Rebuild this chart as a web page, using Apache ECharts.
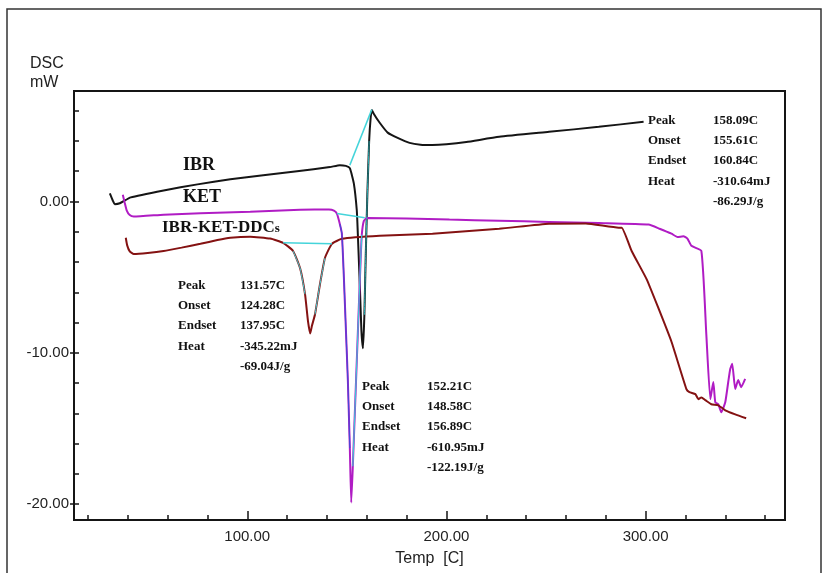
<!DOCTYPE html>
<html>
<head>
<meta charset="utf-8">
<script src="https://cdn.jsdelivr.net/npm/echarts@6/dist/echarts.min.js"></script>
<style>
    html, body { margin: 0; padding: 0; background: #fff; }
    #dsc-chart { width: 823px; height: 573px; }
</style>
</head>
<body>
<div id="dsc-chart"></div>
<script>
// DSC thermograms, [temp C, heat flow mW]
var ibrPoints = [
    [31, 0.53], [32.5, 0.05], [33.5, -0.18], [36, -0.12], [41.5, 0.27], [58, 0.73], [75, 1.13],
    [91.5, 1.47], [108, 1.73], [125, 2.0], [141.5, 2.27], [146.5, 2.4], [149.5, 2.35], [151.5, 2.2],
    [153.5, 1.2], [155, -0.6], [155.5, -2.1], [156.5, -5.5], [157.3, -8.5], [158.1, -9.7],
    [158.8, -7.5], [159.5, -3.5], [160.3, 0.5], [161.2, 4.0], [162, 5.6], [162.6, 6.05],
    [163.5, 5.8], [166.5, 5.2], [170.5, 4.55], [175.5, 4.2], [181.5, 3.87], [187, 3.75],
    [193, 3.73], [200, 3.78], [210, 3.93], [226.5, 4.27], [251.5, 4.6], [276.5, 4.93], [299, 5.27]
];
var ketPoints = [
    [37.5, 0.45], [38.5, -0.1], [39.5, -0.6], [41, -0.9], [43, -1.0], [58, -0.87], [76.5, -0.78],
    [101.5, -0.68], [126.5, -0.55], [141, -0.53], [143.5, -0.6], [145, -0.8], [146.5, -1.5],
    [147.5, -2.13], [148.5, -5.0], [149.5, -8.4], [150.5, -11.8], [151.5, -16.3], [152.2, -19.9],
    [153, -17.5], [154, -14.0], [155, -10.5], [156, -7.0], [157, -3.6], [157.5, -2.2],
    [158.5, -1.3], [160, -1.1], [180, -1.12], [201.5, -1.2], [226.5, -1.27], [251.5, -1.35],
    [276.5, -1.43], [301.5, -1.53], [307, -1.8], [313, -2.13], [316, -2.35], [319, -2.3],
    [321, -2.45], [323, -2.93], [328, -3.27], [330.5, -8.8], [332.5, -13.07], [334, -11.93],
    [335, -13.27], [336.5, -13.4], [338, -13.93], [340, -13.27], [341.5, -11.93], [342.5, -11.07],
    [343.5, -10.73], [345, -12.4], [346.5, -11.8], [348, -12.27], [350, -11.73]
];
var ddcPoints = [
    [39, -2.4], [39.7, -2.9], [41, -3.3], [43, -3.47], [50, -3.4], [58, -3.27], [67, -3.05],
    [76.5, -2.8], [85, -2.55], [91.5, -2.4], [101.5, -2.33], [111.5, -2.45], [118, -2.73],
    [123, -3.27], [126.5, -4.4], [129, -6.13], [130.5, -7.93], [131.6, -8.73], [132.5, -8.2],
    [134, -7.47], [136.5, -5.47], [139, -3.73], [142.5, -2.8], [147.5, -2.47], [166.5, -2.27],
    [193, -2.13], [226.5, -1.8], [251.5, -1.47], [270, -1.45], [286.5, -1.73], [288, -1.73],
    [293, -3.27], [300.5, -5.13], [306.5, -7.07], [313, -9.27], [320.5, -12.4], [322, -12.6],
    [325, -12.73], [326.5, -13.07], [328, -12.95], [330, -13.13], [333, -13.4], [336.5, -13.47],
    [340, -13.8], [345, -14.07], [350.5, -14.33]
];
// integration baselines drawn by the instrument software
var ibrBaseline = [[151.5, 2.4], [162.5, 6.07]];
var ketBaseline = [[145, -0.8], [159, -1.07]];
var ddcBaseline = [[118, -2.73], [142.5, -2.8]];

var xMinorTicks = [20, 40, 60, 80, 100, 120, 140, 160, 180, 200, 220, 240, 260, 280, 300, 320, 340, 360];
var xMajorTicks = [100, 200, 300];
var yMinorTicks = [-20, -18, -16, -14, -12, -10, -8, -6, -4, -2, 0, 2, 4, 6];
var yMajorTicks = [-20, -10, 0];

var ibrResults = [['Peak', '158.09C'], ['Onset', '155.61C'], ['Endset', '160.84C'], ['Heat', '-310.64mJ'], ['', '-86.29J/g']];
var ketResults = [['Peak', '152.21C'], ['Onset', '148.58C'], ['Endset', '156.89C'], ['Heat', '-610.95mJ'], ['', '-122.19J/g']];
var ddcResults = [['Peak', '131.57C'], ['Onset', '124.28C'], ['Endset', '137.95C'], ['Heat', '-345.22mJ'], ['', '-69.04J/g']];

var xMin = 13, xMax = 370;
var yMin = -21.05, yMax = 7.3;

var axisColor = '#151515';
var cyan = '#44D4DA';
var serifBold = 'bold 13px "Liberation Serif", "Times New Roman", serif';

// one block of Peak/Onset/Endset/Heat text
function resultBlock(rows, left, top, valueLeft) {
    var items = [];
    rows.forEach(function(r, i) {
        var y = top + i * 20.3;
        if (r[0]) {
            items.push({ type: 'text', left: left, top: y, style: { text: r[0], font: serifBold, fill: '#111' } });
        }
        items.push({ type: 'text', left: valueLeft, top: y, style: { text: r[1], font: serifBold, fill: '#111' } });
    });
    return items;
}

function curve(name, data, color, width, z) {
    return {
        name: name,
        type: 'line',
        data: data,
        xAxisIndex: 0,
        yAxisIndex: 0,
        showSymbol: false,
        smooth: 0.15,
        lineStyle: { color: color, width: width },
        z: z || 3
    };
}

// piece of a curve between two temperatures (peak sides highlighted by the software)
function between(points, from, to) {
    return points.filter(function(p) { return p[0] >= from && p[0] <= to; });
}

var myChart = echarts.init(document.getElementById('dsc-chart'));

var option = {
    animation: false,
    grid: {
        left: 74, right: 38, top: 91, bottom: 53,
        show: true, borderColor: axisColor, borderWidth: 2
    },
    xAxis: [{
        type: 'value', min: xMin, max: xMax, position: 'bottom',
        axisLine: { onZero: false, lineStyle: { color: axisColor, width: 2 } },
        axisTick: { inside: true, length: 5, customValues: xMinorTicks, lineStyle: { color: axisColor, width: 1.5 } },
        axisLabel: { show: false },
        splitLine: { show: false }
    }, {
        type: 'value', min: xMin, max: xMax, position: 'bottom',
        axisLine: { show: false, onZero: false },
        axisTick: { inside: true, length: 9, customValues: xMajorTicks, lineStyle: { color: axisColor, width: 1.5 } },
        axisLabel: {
            customValues: xMajorTicks, margin: 9,
            fontFamily: '"Liberation Sans", Arial, sans-serif', fontSize: 15, color: '#222',
            formatter: function(v) { return v.toFixed(2); }
        },
        splitLine: { show: false },
        name: 'Temp  [C]', nameLocation: 'middle', nameGap: 31,
        nameTextStyle: { fontFamily: '"Liberation Sans", Arial, sans-serif', fontSize: 16, color: '#222' }
    }],
    yAxis: [{
        type: 'value', min: yMin, max: yMax, position: 'left',
        axisLine: { onZero: false, lineStyle: { color: axisColor, width: 2 } },
        axisTick: { inside: true, length: 5, customValues: yMinorTicks, lineStyle: { color: axisColor, width: 1.5 } },
        axisLabel: { show: false },
        splitLine: { show: false }
    }, {
        type: 'value', min: yMin, max: yMax, position: 'left',
        axisLine: { show: false, onZero: false },
        axisTick: { inside: false, length: 4, customValues: yMajorTicks, lineStyle: { color: axisColor, width: 1.5 } },
        axisLabel: {
            customValues: yMajorTicks, margin: 5,
            fontFamily: '"Liberation Sans", Arial, sans-serif', fontSize: 15, color: '#222',
            formatter: function(v) { return v.toFixed(2); }
        },
        splitLine: { show: false }
    }],
    series: [
        curve('IBR', ibrPoints, '#151515', 2),
        curve('KET', ketPoints, '#B01CC4', 2),
        curve('IBR-KET-DDCs', ddcPoints, '#841212', 2),
        curve('IBR baseline', ibrBaseline, cyan, 1.5),
        curve('KET baseline', ketBaseline, cyan, 1.5),
        curve('DDCs baseline', ddcBaseline, cyan, 1.5),
        curve('IBR peak side', between(ibrPoints, 158.8, 161.2), '#2AAFB5', 1, 4),
        curve('KET peak left', between(ketPoints, 146.5, 151.5), '#4A46D6', 1.2, 4),
        curve('KET peak right', between(ketPoints, 153, 157.5), '#3FC2D8', 1.2, 4),
        curve('DDCs peak left', between(ddcPoints, 123, 129), cyan, 1, 4),
        curve('DDCs peak right', between(ddcPoints, 134, 139), cyan, 1, 4)
    ],
    graphic: [
        { type: 'rect', shape: { x: 7, y: 9, width: 814, height: 580 }, style: { fill: 'none', stroke: '#333', lineWidth: 1.5 }, silent: true },
        { type: 'text', left: 30, top: 54, style: { text: 'DSC\nmW', font: '16px "Liberation Sans", Arial, sans-serif', lineHeight: 19, fill: '#222' } },
        { type: 'text', left: 183, top: 156, style: { text: 'IBR', font: 'bold 18px "Liberation Serif", "Times New Roman", serif', fill: '#111' } },
        { type: 'text', left: 183, top: 188, style: { text: 'KET', font: 'bold 18px "Liberation Serif", "Times New Roman", serif', fill: '#111' } },
        { type: 'text', left: 162, top: 219, style: {
            text: '{a|IBR-KET-DDC}{b|s}',
            rich: {
                a: { font: 'bold 17px "Liberation Serif", "Times New Roman", serif', fill: '#111' },
                b: { font: 'bold 13px "Liberation Serif", "Times New Roman", serif', fill: '#111', padding: [3, 0, 0, 0] }
            }
        } }
    ]
        .concat(resultBlock(ddcResults, 178, 279, 240))
        .concat(resultBlock(ketResults, 362, 380, 427))
        .concat(resultBlock(ibrResults, 648, 114, 713))
};

myChart.setOption(option);
</script>
</body>
</html>
